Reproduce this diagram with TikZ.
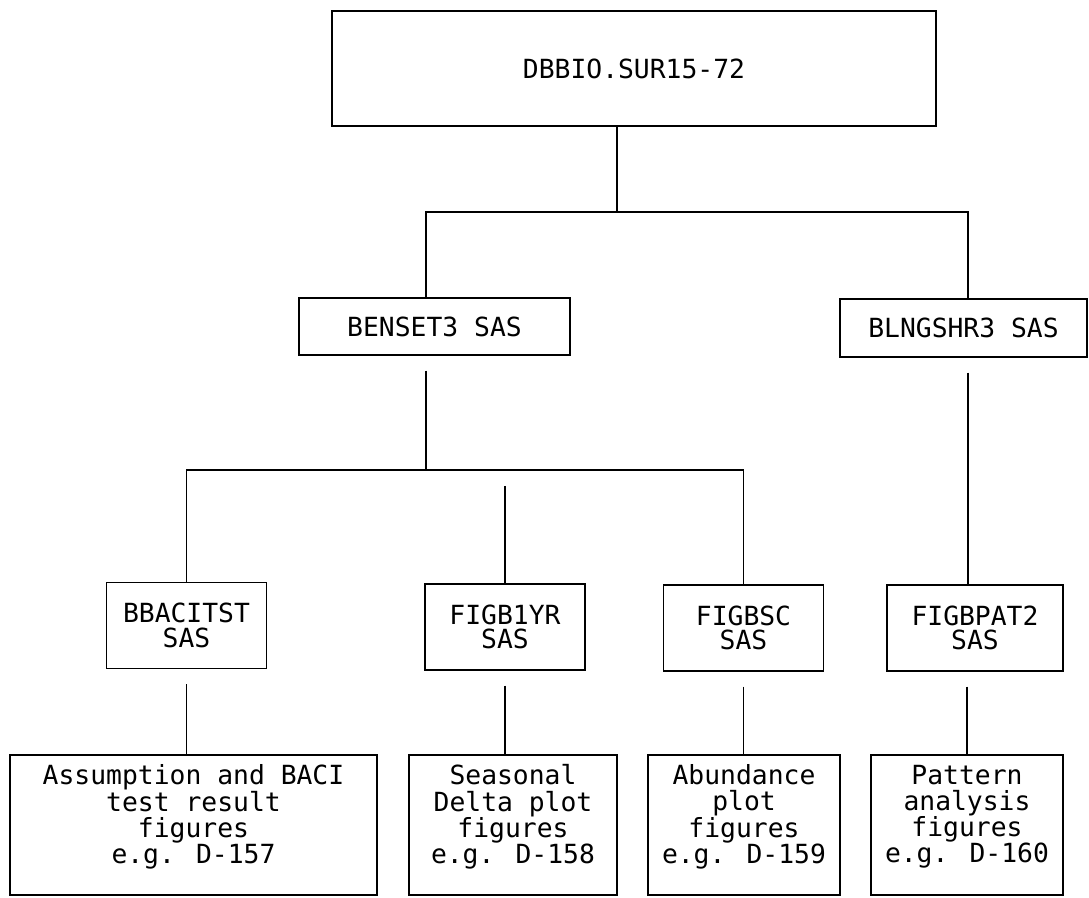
\documentclass[tikz,border=0pt]{standalone}
\usepackage{fontspec}
\newfontfamily\prtfont{DejaVu Sans Mono}
\usetikzlibrary{positioning}
\newcommand{\uplines}[1]{\raisebox{0.16cm}[\height][\depth]{\def\arraystretch{0.86}\begin{tabular}{@{}c@{}}#1\end{tabular}}}
\tikzset{
  filebox/.style={draw, line width=0.8pt, inner sep=0pt, align=center},
  midbox/.style={filebox, minimum width=3.2cm, minimum height=1.72cm},
  outbox/.style={filebox, minimum height=2.8cm},
  link/.style={line width=0.8pt},
  gapline/.style={link, shorten <=0.3cm}
}

\begin{document}
\begin{tikzpicture}[every node/.style={font=\prtfont\fontsize{15}{14}\selectfont}]
  \useasboundingbox (0,0) rectangle (21.78,-17.96);
  \node[filebox, minimum width=12.08cm, minimum height=2.3cm] (dbbio) at (12.68,-1.37) {DBBIO.SUR15-72};
  \node[filebox, minimum width=5.42cm, minimum height=1.14cm] (benset) at (8.69,-6.53) {BENSET3 SAS};
  \node[filebox, minimum width=4.94cm, minimum height=1.16cm] (blngshr) at (19.27,-6.56) {BLNGSHR3 SAS};

  \node[midbox] (bbaci) at (3.73,-12.51) {BBACITST\\SAS};
  \node[midbox] (figyr) at (10.10,-12.54) {FIGB1YR\\SAS};
  \node[midbox] (figsc) at (14.87,-12.56) {FIGBSC\\SAS};
  \node[midbox, minimum width=3.52cm] (figpat) at (19.50,-12.56) {FIGBPAT2\\SAS};

  \node[outbox, minimum width=7.34cm] (out1) at (3.87,-16.5) {\uplines{Assumption and BACI\\test result\\figures\\e.g. D-157}};
  \node[outbox, minimum width=4.16cm] (out2) at (10.26,-16.5) {\uplines{Seasonal\\Delta plot\\figures\\e.g. D-158}};
  \node[outbox, minimum width=3.84cm] (out3) at (14.88,-16.5) {\uplines{Abundance\\plot\\figures\\e.g. D-159}};
  \node[outbox, minimum width=3.84cm] (out4) at (19.34,-16.5) {\uplines{Pattern\\analysis\\figures\\e.g. D-160}};

  % junctions of the branch lines
  \coordinate (topjoin) at (12.34,-4.24);
  \coordinate (busl) at (8.52,-4.24);
  \coordinate (busr) at (19.36,-4.24);
  \coordinate (lowjoin) at (8.52,-9.40);
  \coordinate (yrtop) at (10.10,-9.72);

  \draw[link] (dbbio.south -| topjoin) -- (topjoin);
  \draw[link] (benset.north -| busl) |- (busr) -- (blngshr.north -| busr);
  \draw[gapline] (benset.south -| lowjoin) -- (lowjoin);
  \draw[link] (bbaci.north) |- (lowjoin) -| (figsc.north);
  \draw[link] (yrtop) -- (figyr.north);
  \draw[gapline] (blngshr.south -| busr) -- (figpat.north -| busr);

  \draw[gapline] (bbaci.south) -- (bbaci.south |- out1.north);
  \draw[gapline] (figyr.south) -- (figyr.south |- out2.north);
  \draw[gapline] (figsc.south) -- (figsc.south |- out3.north);
  \draw[gapline] (figpat.south -| out4.north) -- (out4.north);
\end{tikzpicture}
\end{document}
